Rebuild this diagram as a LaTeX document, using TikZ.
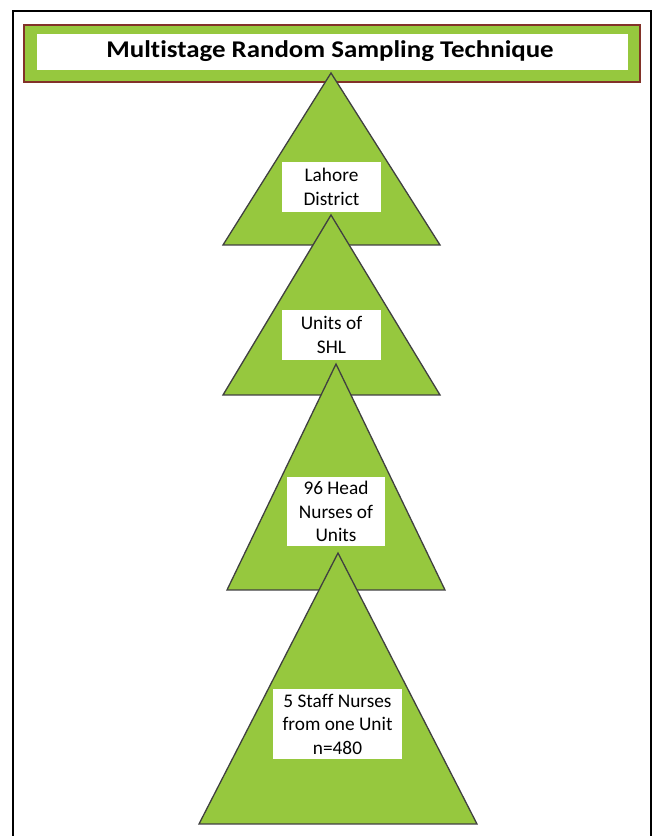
\documentclass[tikz,border=0pt]{standalone}
\usepackage{fontspec}
\setmainfont[Ligatures=NoCommon]{Carlito}
\definecolor{leaf}{RGB}{150,200,62}
\definecolor{edgegray}{RGB}{64,64,64}
\definecolor{brownline}{RGB}{130,50,40}
\begin{document}
\begin{tikzpicture}[x=1pt,y=1pt,
  tri/.style={fill=leaf,draw=edgegray,line width=1.3pt,line join=miter},
  lbl/.style={fill=white,draw=none,align=center,inner sep=0pt,
    font=\fontsize{19.3}{23.5}\selectfont},
]
\useasboundingbox (0,0) rectangle (656,836);
\clip (0,0) rectangle (656,836);
\fill[white] (0,0) rectangle (656,836);
% outer frame
\draw[line width=2pt,black] (13,-10) rectangle (651,825);
% title
\node[draw=brownline,fill=leaf,line width=1.2pt,minimum width=616pt,minimum height=57pt,inner sep=0pt] (titleouter) at (332,782.5) {};
\node[fill=white,minimum width=591pt,minimum height=36pt,inner sep=0pt] (title) at (332.5,784) {};
\node[inner sep=0pt,xscale=1.12,font=\fontsize{24}{28}\selectfont\bfseries] (titletext) at (330,785) {Multistage Random Sampling Technique};
% triangle 1
\coordinate (a1) at (331,763);
\coordinate (l1) at (223,591);
\coordinate (r1) at (440,591);
\draw[tri] (a1) -- (r1) -- (l1) -- cycle;
\node[lbl,minimum width=99pt,minimum height=50pt] (n1) at (331.5,649) {Lahore\\District};
% triangle 2
\coordinate (a2) at (331,621);
\coordinate (l2) at (223,441);
\coordinate (r2) at (440,441);
\draw[tri] (a2) -- (r2) -- (l2) -- cycle;
\node[lbl,minimum width=99pt,minimum height=50pt] (n2) at (331.5,501) {Units of\\SHL};
% triangle 3
\coordinate (a3) at (336,472);
\coordinate (l3) at (227,246);
\coordinate (r3) at (445,246);
\draw[tri] (a3) -- (r3) -- (l3) -- cycle;
\node[lbl,minimum width=98pt,minimum height=69pt] (n3) at (336,324.5) {96 Head\\Nurses of\\Units};
% triangle 4
\coordinate (a4) at (338,283);
\coordinate (l4) at (199,12);
\coordinate (r4) at (477,12);
\draw[tri] (a4) -- (r4) -- (l4) -- cycle;
\node[lbl,minimum width=129pt,minimum height=70pt] (n4) at (337.5,112) {5 Staff Nurses\\from one Unit\\n=480};
\end{tikzpicture}
\end{document}
